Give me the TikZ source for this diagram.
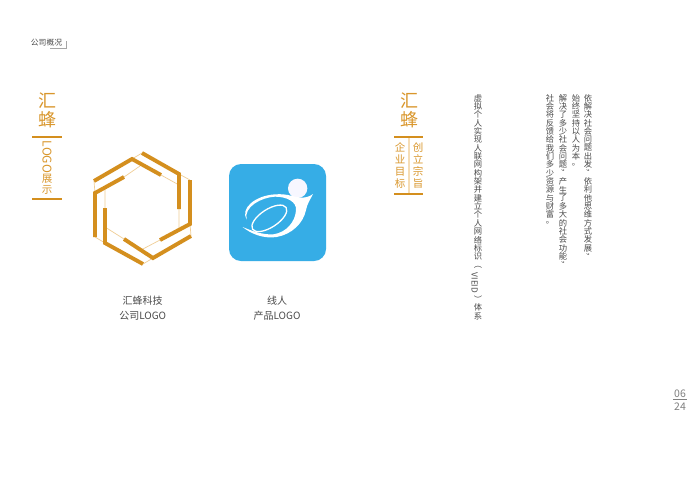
\documentclass[tikz,border=0pt]{standalone}
\usepackage{graphicx}
\usepackage{fontspec}
\setmainfont{Noto Sans CJK SC}
\definecolor{gold}{HTML}{D48F1E}
\definecolor{goldtxt}{HTML}{D9962B}
\definecolor{goldthin}{HTML}{F0CE96}
\definecolor{logoblue}{HTML}{36ADE6}
\definecolor{bodytxt}{HTML}{4A4A4A}
\newdimen\vpitch
\newdimen\vwid
\def\vchend{\vchend}
\def\vchendd{\vchend}
\def\vchloop#1{\def\vtmp{#1}\ifx\vtmp\vchendd\else\hbox to \vwid{\hss\vbox to \vpitch{\vss\hbox{#1}\vss}\hss}\expandafter\vchloop\fi}
\newcommand\vst[2]{\vpitch=#1pt\vwid=8pt\vbox{\offinterlineskip\vchloop #2\vchend}}
\newcommand\vr[1]{\rotatebox[origin=c]{-90}{#1}}
\tikzset{
  thick hex/.style={draw=gold,line width=3.9pt,line join=miter},
  thin hex/.style={draw=goldthin,line width=0.7pt},
  rule gold/.style={draw=gold,line width=1.3pt},
  vtext/.style={anchor=north,inner sep=0pt,text=bodytxt,font=\fontsize{8.3}{8.3}\selectfont},
  gtitle/.style={anchor=north,inner sep=0pt,text=goldtxt,font=\fontsize{18}{18}\selectfont},
  gsub/.style={anchor=north,inner sep=0pt,text=goldtxt,font=\fontsize{10.5}{10.5}\selectfont},
  caption/.style={inner sep=0pt,text=bodytxt,font=\fontsize{10}{10}\selectfont},
  pageno/.style={inner sep=0pt,text=gray,font=\fontsize{10.5}{10.5}\selectfont},
}
\begin{document}
\begin{tikzpicture}[x=1pt,y=-1pt]
\useasboundingbox (0,0) rectangle (700,501);
\fill[white] (0,0) rectangle (700,501);
% header
\node[inner sep=0pt,text=bodytxt,font=\fontsize{7.8}{7.8}\selectfont] (head) at (46.5,42.5) {公司概况};
\coordinate (ha) at (50,48.5); \coordinate (hb) at (66,48.5); \coordinate (hc) at (66,41);
\draw[gray!70,line width=0.6pt] (ha) -- (hb) -- (hc);
% left title
\node[gtitle] (t1) at (47,91) {\vst{19}{汇蜂}};
\coordinate (r1a) at (32,137); \coordinate (r1b) at (62,137);
\coordinate (r2a) at (32,199); \coordinate (r2b) at (62,199);
\draw[rule gold] (r1a) -- (r1b); \draw[rule gold] (r2a) -- (r2b);
\node[inner sep=0pt,text=goldtxt,font=\fontsize{12}{12}\selectfont,rotate=-90] (logo) at (47,157) {LOGO};
\node[gsub] (zs) at (47,172.5) {\vst{11.5}{展示}};
% hexagon
\coordinate (A1) at (94,181); \coordinate (A2) at (132,159); \coordinate (A3) at (161,175);
\coordinate (B1) at (142,153); \coordinate (B2) at (179,174); \coordinate (B3) at (179,209);
\coordinate (C1) at (190,180); \coordinate (C2) at (190,224); \coordinate (C3) at (160,240);
\coordinate (D1) at (191,236); \coordinate (D2) at (153,258); \coordinate (D3) at (124,239);
\coordinate (E1) at (143,264); \coordinate (E2) at (105,243); \coordinate (E3) at (105,208);
\coordinate (F1) at (124,177); \coordinate (F2) at (95,193); \coordinate (F3) at (95,237);
\coordinate (iA) at (179,185); \coordinate (iB) at (179,230); \coordinate (iC) at (141,250);
\coordinate (iD) at (105,227); \coordinate (iE) at (105,187); \coordinate (iF) at (140,166);
\draw[thin hex] (A2)--(B1) (B2)--(C1) (C2)--(D1) (D2)--(E1) (E2)--(F3) (F2)--(A1);
\draw[thin hex] (A3)--(iA) (B3)--(iB) (C3)--(iC) (D3)--(iD) (E3)--(iE) (F1)--(iF);
\draw[thick hex] (A1)--(A2)--(A3);
\draw[thick hex] (B1)--(B2)--(B3);
\draw[thick hex] (C1)--(C2)--(C3);
\draw[thick hex] (D1)--(D2)--(D3);
\draw[thick hex] (E1)--(E2)--(E3);
\draw[thick hex] (F1)--(F2)--(F3);
% app logo
\fill[logoblue,rounded corners=12pt] (229,164) rectangle (326,261);
\begin{scope}[shift={(220,155)},x=0.33333pt,y=-0.33333pt]
\fill[white!97!blue] (233,100) circle[radius=29];
\draw[white,line width=1.3pt,shift={(148,190)},rotate=33] (0,0) ellipse[x radius=60,y radius=27];
\fill[white] (80,194) .. controls (60,160) and (105,122) .. (165,118)
  .. controls (205,115) and (225,128) .. (245,128)
  .. controls (258,128) and (270,124) .. (279,117)
  .. controls (270,135) and (262,145) .. (258,165)
  .. controls (250,205) and (215,238) .. (170,246)
  .. controls (130,252) and (92,236) .. (68,216)
  .. controls (92,226) and (125,240) .. (160,238)
  .. controls (200,232) and (226,200) .. (228,165)
  .. controls (230,140) and (200,125) .. (165,125)
  .. controls (125,127) and (70,155) .. (80,194) -- cycle;
\end{scope}
% captions
\node[caption] (cap1) at (142.7,300.5) {汇蜂科技};
\node[caption] (cap2) at (142.7,315.5) {公司LOGO};
\node[caption] (cap3) at (277,300.5) {线人};
\node[caption] (cap4) at (277,315.5) {产品LOGO};
% right title
\node[gtitle] (t2) at (409,91) {\vst{19}{汇蜂}};
\coordinate (r3a) at (394,137); \coordinate (r3b) at (423,137);
\coordinate (r4a) at (394,194); \coordinate (r4b) at (423,194);
\coordinate (r5a) at (409,137); \coordinate (r5b) at (409,194);
\draw[goldthin!70,line width=1.5pt] (r5a) -- (r5b);
\draw[rule gold] (r3a) -- (r3b); \draw[rule gold] (r4a) -- (r4b);
\node[gsub] (cl) at (418,141.5) {\vst{12}{创立宗旨}};
\node[gsub] (qy) at (400,141.5) {\vst{12}{企业目标}};
% columns
\node[vtext] (v1) at (478,93.5) {\vst{8.35}{虚拟个人实现人联网构架并建立个人网络标识{\vr{（}}}};
\node[vtext,rotate=-90] (v1b) at (478,283) {VIEID};
\node[vtext] (v1c) at (478,295) {\vst{8.35}{{\vr{）}}体系}};
\node[vtext] (v2) at (588,93.5) {\vst{8.35}{依解决社会问题出发{\vr{，}}依利他思维方式发展{\vr{，}}}};
\node[vtext] (v3) at (576,93.5) {\vst{8.35}{始终坚持以人为本。}};
\node[vtext] (v4) at (563,93.5) {\vst{8.35}{解决了多少社会问题{\vr{，}}产生了多大的社会功能{\vr{，}}}};
\node[vtext] (v5) at (550,93.5) {\vst{8.35}{社会将反馈给我们多少资源与财富。}};
% page
\node[pageno] (p1) at (680,393.5) {06};
\node[pageno] (p2) at (680,406.5) {24};
\coordinate (pa) at (673,399.7); \coordinate (pb) at (687,399.7);
\draw[gray,line width=0.5pt] (pa) -- (pb);
\end{tikzpicture}
\end{document}
